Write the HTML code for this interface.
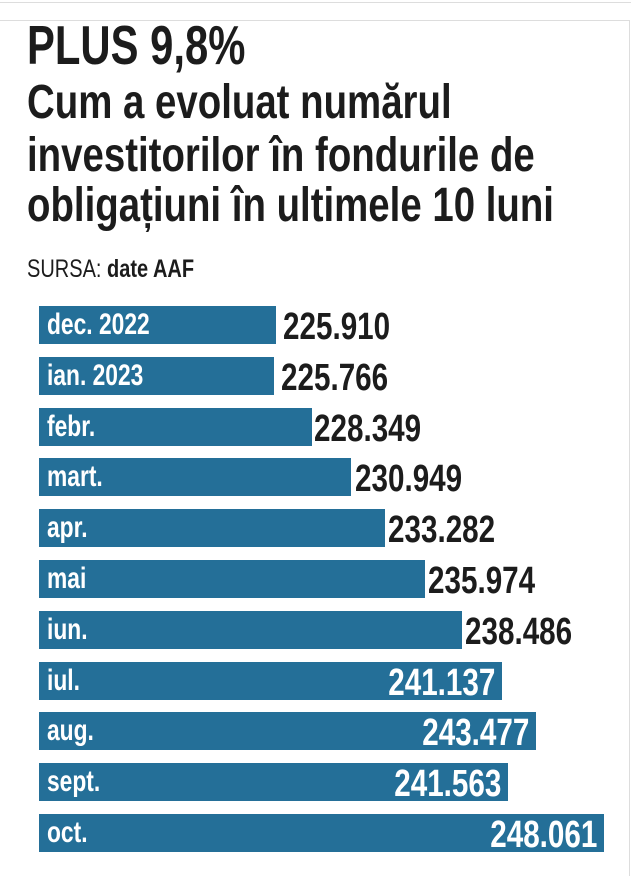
<!DOCTYPE html>
<html><head><meta charset="utf-8"><style>
body{margin:0;width:640px;height:876px;background:#fff;position:relative;overflow:hidden;font-family:"Liberation Sans",sans-serif;}
.a{position:absolute;white-space:nowrap;line-height:1;transform-origin:0 0;}
.t{font-weight:bold;color:#1c1c1c;}
.bar{position:absolute;left:39px;height:38px;background:#246f98;}
.lab{position:absolute;left:47px;font-size:30px;font-weight:bold;color:#fff;line-height:1;white-space:nowrap;transform:scaleX(.76);transform-origin:0 0;}
.v{position:absolute;font-size:38px;font-weight:bold;color:#1c1c1c;line-height:1;white-space:nowrap;transform:scaleX(.78);transform-origin:0 0;}
.vi{position:absolute;font-size:38px;font-weight:bold;color:#fff;line-height:1;white-space:nowrap;transform:scaleX(.78);transform-origin:100% 0;text-align:right;}
</style></head><body>
<div style="position:absolute;left:0;top:2px;width:631px;height:1px;background:#ddd"></div>
<div style="position:absolute;left:0;top:20px;width:629px;height:1px;background:#ddd"></div>
<div style="position:absolute;left:629px;top:20px;width:1px;height:856px;background:#ddd"></div>

<div class="a t" style="left:27px;top:18px;font-size:55px;transform:scaleX(.76)">PLUS 9,8%</div>
<div class="a t" style="left:27px;top:79px;font-size:48px;transform:scaleX(.80)">Cum a evoluat numărul</div>
<div class="a t" style="left:27px;top:132px;font-size:48px;transform:scaleX(.80)">investitorilor în fondurile de</div>
<div class="a t" style="left:27px;top:182px;font-size:48px;transform:scaleX(.80)">obligațiuni în ultimele 10 luni</div>
<div class="a" style="left:27px;top:257px;font-size:25px;color:#1c1c1c;transform:scaleX(.80)">SURSA: <b>date AAF</b></div>

<div class="bar" style="top:306px;width:237px"></div><div class="lab" style="top:310px">dec. 2022</div><div class="v" style="left:283px;top:308px">225.910</div>
<div class="bar" style="top:357px;width:235px"></div><div class="lab" style="top:361px">ian. 2023</div><div class="v" style="left:281px;top:359px">225.766</div>
<div class="bar" style="top:408px;width:273px"></div><div class="lab" style="top:412px">febr.</div><div class="v" style="left:314px;top:410px">228.349</div>
<div class="bar" style="top:458px;width:312px"></div><div class="lab" style="top:462px">mart.</div><div class="v" style="left:355px;top:460px">230.949</div>
<div class="bar" style="top:509px;width:346px"></div><div class="lab" style="top:513px">apr.</div><div class="v" style="left:388px;top:511px">233.282</div>
<div class="bar" style="top:560px;width:386px"></div><div class="lab" style="top:564px">mai</div><div class="v" style="left:428px;top:562px">235.974</div>
<div class="bar" style="top:611px;width:423px"></div><div class="lab" style="top:615px">iun.</div><div class="v" style="left:465px;top:613px">238.486</div>
<div class="bar" style="top:662px;width:463px"></div><div class="lab" style="top:666px">iul.</div><div class="vi" style="right:145px;top:664px">241.137</div>
<div class="bar" style="top:712px;width:497px"></div><div class="lab" style="top:716px">aug.</div><div class="vi" style="right:111px;top:714px">243.477</div>
<div class="bar" style="top:763px;width:469px"></div><div class="lab" style="top:767px">sept.</div><div class="vi" style="right:139px;top:765px">241.563</div>
<div class="bar" style="top:814px;width:565px"></div><div class="lab" style="top:818px">oct.</div><div class="vi" style="right:43px;top:816px">248.061</div>
</body></html>
